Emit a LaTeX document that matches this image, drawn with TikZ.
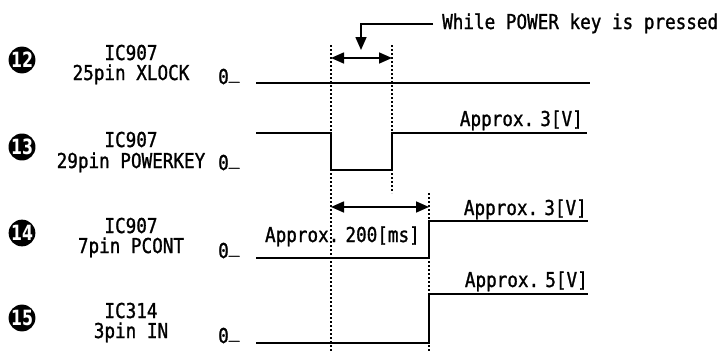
\documentclass[tikz,border=0pt]{standalone}
\usepackage{fontspec}
\usepackage{tikz}
\usetikzlibrary{arrows.meta}
\usetikzlibrary{positioning}
\newfontfamily\sigfont[FakeStretch=0.86,FakeBold=1.2]{DejaVu Sans Mono}
\newfontfamily\numfont[FakeStretch=0.75]{DejaVu Sans}

\begin{document}
\begin{tikzpicture}[x=1pt,y=-1pt,>={Triangle[length=13pt,width=11pt]},
	signal/.style={line width=1.6pt},
	marker/.style={line width=1.7pt,dash pattern=on 1.7pt off 2.3pt},
	num node/.style={circle,fill=black,minimum size=26pt,inner sep=0pt,text=white,font=\numfont\bfseries\fontsize{21}{21}\selectfont},
	text node/.style={inner sep=0pt,font=\sigfont\fontsize{20.5}{22}\selectfont}]

	\useasboundingbox (0,0) rectangle (724,351);

	\node[num node] (n12) at (22,60) {12};
	\node[num node] (n13) at (22,147) {13};
	\node[num node] (n14) at (22,233) {14};
	\node[num node] (n15) at (22,318) {15};

	\node[text node,anchor=base] (ic12) at (131,60) {IC907};
	\node[text node,anchor=base] (pin12) at (131,80) {25pin XLOCK};
	\node[text node,anchor=base] (ic13) at (131,147) {IC907};
	\node[text node,anchor=base] (pin13) at (131,168) {29pin POWERKEY};
	\node[text node,anchor=base] (ic14) at (131,233) {IC907};
	\node[text node,anchor=base] (pin14) at (131,253) {7pin PCONT};
	\node[text node,anchor=base] (ic15) at (131,318) {IC314};
	\node[text node,anchor=base] (pin15) at (131,338) {3pin IN};

	\foreach \row/\lo in {12/84,13/170,14/258,15/343}
		\node[text node,anchor=base west] (zero\row) at (218,\lo) {0\raisebox{0.3em}{\_}};

	\coordinate (press top) at (331,45);
	\coordinate (press bot) at (331,351);
	\coordinate (release top) at (392,45);
	\coordinate (release bot) at (392,193);
	\coordinate (pcont top) at (429,193);
	\coordinate (pcont bot) at (429,351);

	\draw[marker] (press top) -- (press bot);
	\draw[marker] (release top) -- (release bot);
	\draw[marker] (pcont top) -- (pcont bot);

	\draw[signal] (256,83) -- (590,83);
	\draw[signal] (256,133) -| (331,170) -| (392,133) -- (587,133);
	\draw[signal] (256,258) -| (429,221) -- (588,221);
	\draw[signal] (256,343) -| (429,294) -- (588,294);

	\draw[signal,<->] (press top |- 0,58) -- (release top |- 0,58);
	\draw[signal,<->] (press top |- 0,207) -- (pcont top |- 0,207);

	\node[text node,anchor=base west] (pressed) at (442,29) {While POWER key is pressed};
	\coordinate (pressed tip) at (361,50);
	\draw[signal,->] ([xshift=-9pt,yshift=-1pt]pressed.west) -| (pressed tip);

	\node[text node,anchor=base east] (v13) at (583,126) {Approx.\hspace{0.3em}3[V]};
	\node[text node,anchor=base east] (v14) at (587,215) {Approx.\hspace{0.3em}3[V]};
	\node[text node,anchor=base east] (ms14) at (420,242) {Approx.\hspace{0.3em}200[ms]};
	\node[text node,anchor=base east] (v15) at (588,287) {Approx.\hspace{0.3em}5[V]};

\end{tikzpicture}
\end{document}
